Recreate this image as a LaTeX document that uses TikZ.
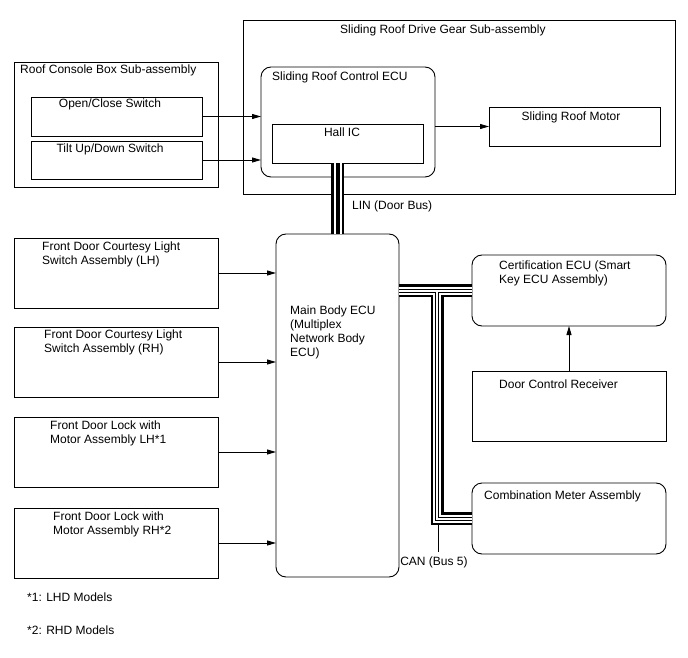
\documentclass[tikz,border=0pt]{standalone}
\usepackage{fontspec}
\setmainfont{Liberation Sans}
\usetikzlibrary{arrows.meta}
\begin{document}
\begin{tikzpicture}[x=1pt,y=-1pt,
  font=\fontsize{12}{14}\selectfont,
  box/.style={draw, line width=0.9pt, anchor=north west, inner sep=0, outer sep=0},
  rbox/.style={box, rounded corners=10pt},
  lbl/.style={anchor=base west, inner sep=0, align=left},
  clbl/.style={anchor=base, inner sep=0},
  arr/.style={line width=0.9pt, -{Triangle[length=9pt,width=5pt]}},
  busA/.style={line width=13pt, black},
  busB/.style={line width=8pt, white},
  busC/.style={line width=4pt, black},
  busD/.style={line width=2pt, white},
  canlead/.style={line width=1pt, black}
]
\useasboundingbox (0,0) rectangle (688,658);

% boxes
\node[box, minimum width=432, minimum height=174] (drive) at (243,20) {};
\node[rbox, minimum width=174, minimum height=110] (srecu) at (261,67) {};
\node[box, minimum width=151, minimum height=39] (hall) at (272,124) {};
\node[box, minimum width=171, minimum height=39] (motor) at (489,107) {};
\node[box, minimum width=204, minimum height=125] (console) at (14,62) {};
\node[box, minimum width=171, minimum height=39] (oc) at (31,97) {};
\node[box, minimum width=171, minimum height=38] (tilt) at (31,141) {};
\node[box, minimum width=204, minimum height=70] (clh) at (14,238) {};
\node[box, minimum width=204, minimum height=70] (crh) at (14,327) {};
\node[box, minimum width=204, minimum height=70] (llh) at (14,417) {};
\node[box, minimum width=204, minimum height=70] (lrh) at (14,508) {};
\node[rbox, minimum width=123, minimum height=343] (main) at (276,234) {};
\node[rbox, minimum width=194, minimum height=71] (cert) at (472,255) {};
\node[box, minimum width=194, minimum height=70] (dcr) at (472,371) {};
\node[rbox, minimum width=194, minimum height=71] (comb) at (472,483) {};

% texts (base = baseline of the last line)
\node[lbl] (tdrive) at (340,34) {Sliding Roof Drive Gear Sub-assembly};
\node[lbl] (tsrecu) at (272,81) {Sliding Roof Control ECU};
\node[clbl] (thall) at (342,136) {Hall IC};
\node[clbl] (tmotor) at (571,121) {Sliding Roof Motor};
\node[lbl] (tconsole) at (20,74) {Roof Console Box Sub-assembly};
\node[clbl] (toc) at (110,108) {Open/Close Switch};
\node[clbl] (ttilt) at (110,153) {Tilt Up/Down Switch};
\node[lbl] (tclh) at (42,264) {Front Door Courtesy Light\\Switch Assembly (LH)};
\node[lbl] (tcrh) at (44,352) {Front Door Courtesy Light\\Switch Assembly (RH)};
\node[lbl] (tllh) at (50,443) {Front Door Lock with\\Motor Assembly LH*1};
\node[lbl] (tlrh) at (53,534) {Front Door Lock with\\Motor Assembly RH*2};
\node[lbl] (tmain) at (290,356) {Main Body ECU\\(Multiplex\\Network Body\\ECU)};
\node[lbl] (tcert) at (499,283) {Certification ECU (Smart\\Key ECU Assembly)};
\node[lbl] (tdcr) at (499,388) {Door Control Receiver};
\node[lbl] (tcomb) at (484,499) {Combination Meter Assembly};
\node[lbl] (tlin) at (352,209) {LIN (Door Bus)};
\node[clbl] (tcan) at (434,565) {CAN (Bus 5)};
\node[lbl] (tn1) at (27,601) {*1: LHD Models};
\node[lbl] (tn2) at (27,634) {*2: RHD Models};

% CAN label leader
\coordinate (canL1) at (438,520);
\coordinate (canL2) at (438,552);
\draw[canlead] (canL1) -- (canL2);

% arrows
\draw[arr] (oc.east) -- (oc.east -| srecu.west);
\draw[arr] (tilt.east) -- (tilt.east -| srecu.west);
\draw[arr] (srecu.east |- motor.west) -- (motor.west);
\draw[arr] (clh.east) -- (clh.east -| main.west);
\draw[arr] (crh.east) -- (crh.east -| main.west);
\draw[arr] (llh.east) -- (llh.east -| main.west);
\draw[arr] (lrh.east) -- (lrh.east -| main.west);
\draw[arr] (dcr.north) -- (cert.south);

% LIN bus
\coordinate (linT) at (main.north |- hall.south);
\draw[busA] (main.north) -- (linT);
\draw[busB] (main.north) -- (linT);
\draw[busC] (main.north) -- (linT);

% CAN bus
\coordinate (canA) at (main.east |- cert.west);
\coordinate (canJ) at (437,290.5);
\draw[busA, line join=miter] (canA) -- (cert.west);
\draw[busA, line join=miter] (canJ) |- (comb.west);
\draw[busB, line join=miter] (canA) -- (cert.west);
\draw[busB, line join=miter] (canJ) |- (comb.west);
\draw[busC, line join=miter] (canA) -- (cert.west);
\draw[busC, line join=miter] (canJ) |- (comb.west);
\draw[busD, line join=miter] (canA) -- (cert.west);
\draw[busD, line join=miter] (canJ) |- (comb.west);
\end{tikzpicture}
\end{document}
